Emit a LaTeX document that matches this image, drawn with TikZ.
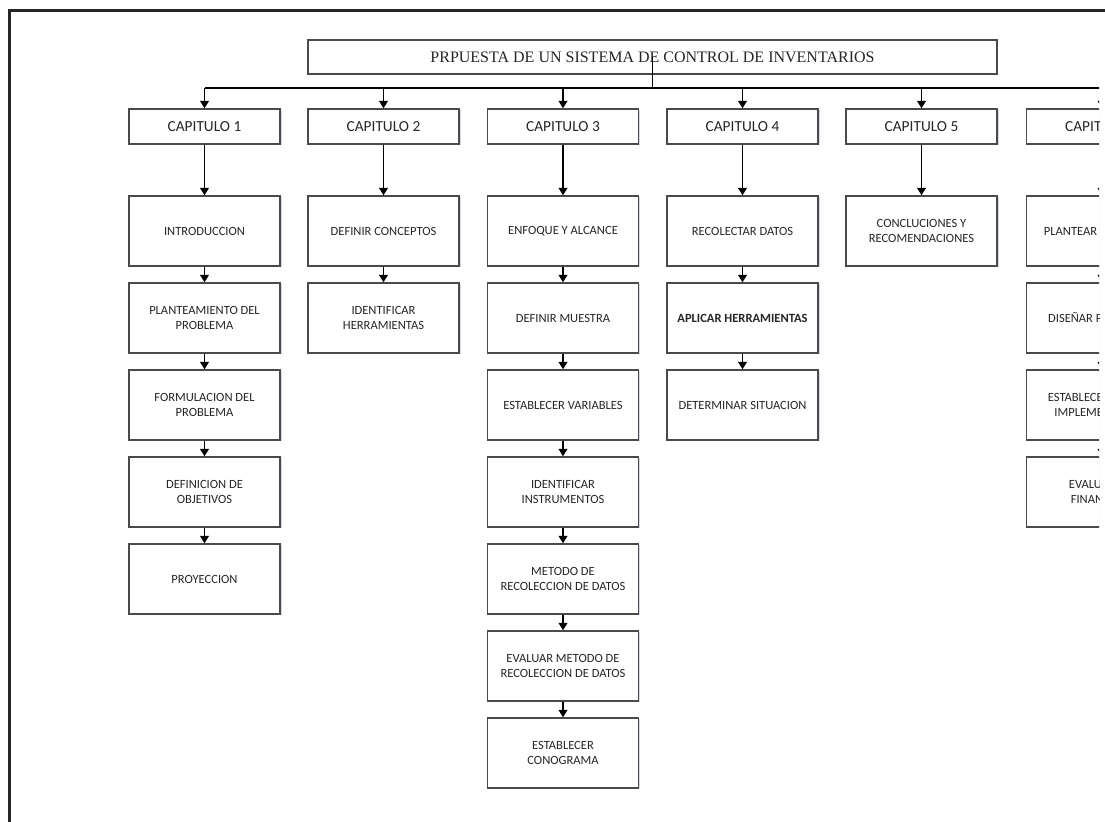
\documentclass[tikz,border=0pt]{standalone}
\usepackage{fontspec}
\setmainfont{Carlito}
\newfontfamily\titlefont{Liberation Serif}
\usetikzlibrary{arrows.meta,shadows}
\definecolor{boxline}{HTML}{4A4A4A}
\definecolor{txt}{HTML}{262626}
\definecolor{shade}{HTML}{B8C4D8}

\begin{document}
\begin{tikzpicture}[x=0.75pt,y=-0.75pt,
  box/.style={draw=boxline, line width=1.1pt, fill=white,
    minimum width=113.5pt, minimum height=52.5pt, inner sep=2pt,
    align=center, text=txt, font=\fontsize{9.4}{11.3}\selectfont,
    drop shadow={shadow xshift=1pt, shadow yshift=-1pt, fill=shade, opacity=0.6}},
  chap/.style={box, minimum height=26.25pt, font=\fontsize{11.5}{13}\selectfont},
  headbox/.style={box, minimum width=516.75pt, minimum height=25.5pt,
    font=\titlefont\fontsize{12}{14}\selectfont},
  link/.style={draw=black, line width=1.1pt},
  arr/.style={link, -{Triangle[width=6.5pt,length=5.5pt]}}
]
\useasboundingbox (0,0) rectangle (1105,821);
\fill[white] (0,0) rectangle (1105,821);

% outer frame, cut by the page edge
\begin{scope}
\clip (0,0) rectangle (1105,821);
\draw[line width=1.6pt, draw=black!85] (9.5,10.5) rectangle (1250,950);
\end{scope}

% the chart itself is cut a little before the right edge
\clip (0,0) rectangle (1099,821);

% title
\node[headbox] (title) at (652.5,57) {PRPUESTA DE UN SISTEMA DE CONTROL DE INVENTARIOS};

% chapters
\node[chap] (cap1) at (204.5,126.5) {CAPITULO 1};
\node[chap] (cap2) at (383.5,126.5) {CAPITULO 2};
\node[chap] (cap3) at (563,126.5)   {CAPITULO 3};
\node[chap] (cap4) at (742.5,126.5) {CAPITULO 4};
\node[chap] (cap5) at (921.5,126.5) {CAPITULO 5};
\node[chap] (cap6) at (1102,126.5)  {CAPITULO 6};

% column 1
\node[box] (a1) at (204.5,231) {INTRODUCCION};
\node[box] (a2) at (204.5,318) {PLANTEAMIENTO DEL\\PROBLEMA};
\node[box] (a3) at (204.5,405) {FORMULACION DEL\\PROBLEMA};
\node[box] (a4) at (204.5,492) {DEFINICION DE\\OBJETIVOS};
\node[box] (a5) at (204.5,579) {PROYECCION};

% column 2
\node[box] (b1) at (383.5,231) {DEFINIR CONCEPTOS};
\node[box] (b2) at (383.5,318) {IDENTIFICAR\\HERRAMIENTAS};

% column 3
\node[box] (c1) at (563,231) {ENFOQUE Y ALCANCE};
\node[box] (c2) at (563,318) {DEFINIR MUESTRA};
\node[box] (c3) at (563,405) {ESTABLECER VARIABLES};
\node[box] (c4) at (563,492) {IDENTIFICAR\\INSTRUMENTOS};
\node[box] (c5) at (563,579) {METODO DE\\RECOLECCION DE DATOS};
\node[box] (c6) at (563,666) {EVALUAR METODO DE\\RECOLECCION DE DATOS};
\node[box] (c7) at (563,753) {ESTABLECER\\CONOGRAMA};

% column 4
\node[box] (d1) at (742.5,231) {RECOLECTAR DATOS};
\node[box] (d2) at (742.5,318) {\bfseries APLICAR HERRAMIENTAS};
\node[box] (d3) at (742.5,405) {DETERMINAR SITUACION};

% column 5
\node[box] (e1) at (921.5,231) {CONCLUCIONES Y\\RECOMENDACIONES};

% column 6
\node[box] (f1) at (1102,231) {PLANTEAR PROPUESTA};
\node[box] (f2) at (1102,318) {DISEÑAR PROPUESTA};
\node[box] (f3) at (1102,405) {ESTABLECER PLAN DE\\IMPLEMENTACION};
\node[box] (f4) at (1102,492) {EVALUACION\\FINANCIERA};

% distribution bus from the title to the chapters
\coordinate (bus) at (652.5,88);
\draw[link] (title.center) -- (title.center |- bus);
\draw[link] (cap1.north |- bus) -- (cap6.north |- bus);
\foreach \c in {cap1,cap2,cap3,cap4,cap5,cap6}
  \draw[arr] (\c.north |- bus) -- (\c.north);

% chapter to first step, and step to step
\foreach \u/\v in {cap1/a1,a1/a2,a2/a3,a3/a4,a4/a5,
                   cap2/b1,b1/b2,
                   cap3/c1,c1/c2,c2/c3,c3/c4,c4/c5,c5/c6,c6/c7,
                   cap4/d1,d1/d2,d2/d3,
                   cap5/e1,
                   cap6/f1,f1/f2,f2/f3,f3/f4}
  \draw[arr] (\u.south) -- (\v.north);
\end{tikzpicture}
\end{document}
